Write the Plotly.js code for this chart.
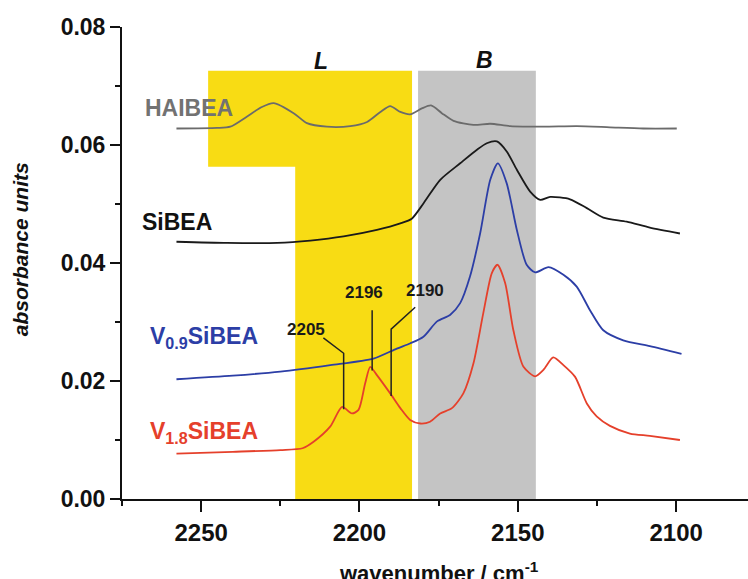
<!DOCTYPE html>
<html>
<head>
<meta charset="utf-8">
<script src="https://cdn.plot.ly/plotly-3.0.1.min.js"></script>
<style>html,body{margin:0;padding:0;background:#fff;}#chart{width:748px;height:579px;}</style>
</head>
<body>
<div id="chart"></div>
<script>
// ---------- data ----------
const haiWn = [2257.8, 2245.0, 2240.8, 2235.6, 2231.0, 2227.1, 2220.8, 2216.6, 2210.3, 2202.9, 2197.6, 2193.4, 2190.3, 2187.1, 2184.0, 2180.3, 2177.4, 2174.0, 2170.3, 2164.0, 2158.7, 2152.4, 2141.9, 2131.4, 2120.9, 2110.4, 2099.8];
const haiAbs = [0.0628, 0.0629, 0.0631, 0.0648, 0.0664, 0.0671, 0.0654, 0.0637, 0.0631, 0.0632, 0.0639, 0.0656, 0.0666, 0.0656, 0.0652, 0.0662, 0.0667, 0.0654, 0.0641, 0.0634, 0.0636, 0.0632, 0.0631, 0.0632, 0.0630, 0.0628, 0.0628];

const siWn = [2257.8, 2241.8, 2226.0, 2215.5, 2205.0, 2194.5, 2187.1, 2183.5, 2179.8, 2174.5, 2168.2, 2162.9, 2159.8, 2156.6, 2153.5, 2150.3, 2146.1, 2142.9, 2139.8, 2133.5, 2128.2, 2123.0, 2115.6, 2108.3, 2098.8];
const siAbs = [0.0436, 0.0434, 0.0434, 0.0438, 0.0445, 0.0456, 0.0467, 0.0475, 0.0501, 0.0541, 0.0569, 0.0592, 0.0603, 0.0606, 0.0589, 0.0558, 0.0521, 0.0507, 0.0512, 0.0508, 0.0493, 0.0477, 0.0470, 0.0460, 0.0450];

const v09Wn = [2257.8, 2240.0, 2225.0, 2209.2, 2195.6, 2188.2, 2183.9, 2179.8, 2175.5, 2171.4, 2168.2, 2165.1, 2161.9, 2158.7, 2156.3, 2153.5, 2150.3, 2147.2, 2144.5, 2140.3, 2135.6, 2131.4, 2127.2, 2123.0, 2116.7, 2108.3, 2098.3];
const v09Abs = [0.0203, 0.0209, 0.0216, 0.0227, 0.0238, 0.0255, 0.0264, 0.0275, 0.0301, 0.0312, 0.0332, 0.0377, 0.0450, 0.0541, 0.0569, 0.0535, 0.0456, 0.0397, 0.0384, 0.0393, 0.0380, 0.0360, 0.0320, 0.0286, 0.0269, 0.0259, 0.0246];

const v18Wn = [2257.8, 2240.0, 2225.0, 2218.0, 2214.5, 2209.2, 2205.5, 2202.4, 2200.3, 2198.2, 2196.6, 2194.5, 2190.3, 2187.1, 2184.0, 2180.8, 2177.7, 2174.5, 2170.8, 2167.2, 2164.0, 2160.9, 2158.2, 2156.4, 2154.0, 2151.4, 2148.2, 2144.5, 2141.9, 2138.8, 2135.6, 2131.9, 2128.2, 2125.1, 2120.9, 2114.6, 2108.3, 2098.8];
const v18Abs = [0.0077, 0.0080, 0.0083, 0.0086, 0.0097, 0.0123, 0.0156, 0.0145, 0.0151, 0.0196, 0.0224, 0.0210, 0.0179, 0.0154, 0.0134, 0.0128, 0.0131, 0.0145, 0.0154, 0.0179, 0.0230, 0.0315, 0.0383, 0.0397, 0.0366, 0.0286, 0.0224, 0.0208, 0.0219, 0.0240, 0.0227, 0.0207, 0.0162, 0.0140, 0.0124, 0.0111, 0.0107, 0.0100];

const seriesNames = ['HAIBEA', 'SiBEA', 'V<sub>0.9</sub>SiBEA', 'V<sub>1.8</sub>SiBEA'];
const peakWn = [2205, 2196, 2190];
const peakLabels = ['2205', '2196', '2190'];
const bandNames = ['L', 'B'];
const xTickVals = [2250, 2200, 2150, 2100];
const yTickVals = [0.00, 0.02, 0.04, 0.06, 0.08];

// ---------- styling / placement ----------
const FONT = 'Liberation Sans, Arial, Helvetica, sans-serif';
const colors = ['#6b6b6b', '#1a1a1a', '#2c3ea6', '#e5402b'];
const labelColors = ['#727272', '#111111', '#2c3ea6', '#e5402b'];
const labelPos = [[2268.4, 0.0663], [2269.3, 0.0470], [2266.8, 0.0274], [2266.8, 0.0113]];

function interp(xs, ys, x) {
  for (let i = 0; i < xs.length - 1; i++) {
    const a = xs[i], b = xs[i + 1];
    if ((x <= a && x >= b) || (x >= a && x <= b)) {
      const t = (x - a) / (b - a);
      return ys[i] + t * (ys[i + 1] - ys[i]);
    }
  }
  return ys[ys.length - 1];
}

const xs = [haiWn, siWn, v09Wn, v18Wn];
const ys = [haiAbs, siAbs, v09Abs, v18Abs];
const traces = xs.map((x, i) => ({
  x: x, y: ys[i], type: 'scatter', mode: 'lines',
  line: {color: colors[i], width: 1.8, shape: 'spline', smoothing: 0.7},
  hoverinfo: 'skip', showlegend: false
}));

// band shapes
const L = {x0: 2247.8, xStep: 2220.3, x1: 2183.4, yTop: 0.0726, yStep: 0.0563};
const B = {x0: 2181.5, x1: 2144.3, yTop: 0.0726};
const shapes = [
  {type: 'path', layer: 'below', xref: 'x', yref: 'y', line: {width: 0}, fillcolor: '#f8dc14',
   path: `M ${L.x0} ${L.yTop} L ${L.x1} ${L.yTop} L ${L.x1} 0 L ${L.xStep} 0 L ${L.xStep} ${L.yStep} L ${L.x0} ${L.yStep} Z`},
  {type: 'rect', layer: 'below', xref: 'x', yref: 'y', line: {width: 0}, fillcolor: '#c4c4c4',
   x0: B.x0, x1: B.x1, y0: 0, y1: B.yTop}
];

// leader lines for the red peaks
const knee = [[2211.4, 0.0273, 0.0247], [2196, 0.0320, 0.0320], [2182.4, 0.0325, 0.0288]];
const peakTextPos = [[2217.0, 0.0287], [2198.5, 0.0350], [2179.3, 0.0354]];
const annotations = [];
peakWn.forEach((wn, i) => {
  const yPeak = interp(v18Wn, v18Abs, wn);
  shapes.push({type: 'path', xref: 'x', yref: 'y', line: {color: '#222', width: 1.5},
    path: `M ${wn} ${yPeak - 0.0002} L ${wn} ${knee[i][2]} L ${knee[i][0]} ${knee[i][1]}`});
  annotations.push({x: peakTextPos[i][0], y: peakTextPos[i][1], xref: 'x', yref: 'y', text: peakLabels[i],
    showarrow: false, font: {family: FONT, size: 17, weight: 700, color: '#1a1a1a'}});
});

seriesNames.forEach((nm, i) => {
  annotations.push({x: labelPos[i][0], y: labelPos[i][1], xref: 'x', yref: 'y', xanchor: 'left', yanchor: 'middle',
    text: nm, showarrow: false, font: {family: FONT, size: 23, weight: 700, color: labelColors[i]}});
});

const bandLabelPos = [[2212.3, 0.0742], [2160.6, 0.0744]];
bandNames.forEach((nm, i) => {
  annotations.push({x: bandLabelPos[i][0], y: bandLabelPos[i][1], xref: 'x', yref: 'y',
    text: '<i>' + nm + '</i>', showarrow: false, font: {family: FONT, size: 23, weight: 700, color: '#111'}});
});

annotations.push({x: -0.161, y: (499 - 249) / 472, xref: 'paper', yref: 'paper', xanchor: 'center', yanchor: 'middle', textangle: -90,
  text: '<i>absorbance units</i>', showarrow: false, font: {family: FONT, size: 21, weight: 700, color: '#111'}});

annotations.push({x: (439 - 122) / 626, y: (499 - 572) / 472, xref: 'paper', yref: 'paper', xanchor: 'center', yanchor: 'middle',
  text: 'wavenumber / cm<sup>-1</sup>', showarrow: false, font: {family: FONT, size: 22, weight: 700, color: '#111'}});

const layout = {
  width: 748, height: 579,
  margin: {l: 122, r: 0, t: 27, b: 80, pad: 0},
  paper_bgcolor: '#ffffff', plot_bgcolor: '#ffffff',
  showlegend: false,
  xaxis: {
    range: [2275, 2077.3], autorange: false,
    tickvals: xTickVals, ticktext: xTickVals.map(String),
    ticks: 'outside', ticklen: 11, tickwidth: 2, tickcolor: '#111',
    minor: {dtick: 25, tick0: 2275, ticks: 'outside', ticklen: 5, tickwidth: 2, tickcolor: '#111'},
    showline: true, linewidth: 2, linecolor: '#111', showgrid: false, zeroline: false,
    tickfont: {family: FONT, size: 24, weight: 700, color: '#111'}
  },
  yaxis: {
    range: [0, 0.08], autorange: false,
    tickvals: yTickVals, ticktext: yTickVals.map(v => v.toFixed(2)),
    ticks: 'outside', ticklen: 10, tickwidth: 2, tickcolor: '#111',
    minor: {dtick: 0.01, tick0: 0, ticks: 'outside', ticklen: 5, tickwidth: 2, tickcolor: '#111'},
    showline: true, linewidth: 2, linecolor: '#111', showgrid: false, zeroline: false,
    tickfont: {family: FONT, size: 23, weight: 700, color: '#111'}
  },
  shapes: shapes,
  annotations: annotations
};

Plotly.newPlot('chart', traces, layout, {staticPlot: true, displayModeBar: false});
</script>
</body>
</html>
